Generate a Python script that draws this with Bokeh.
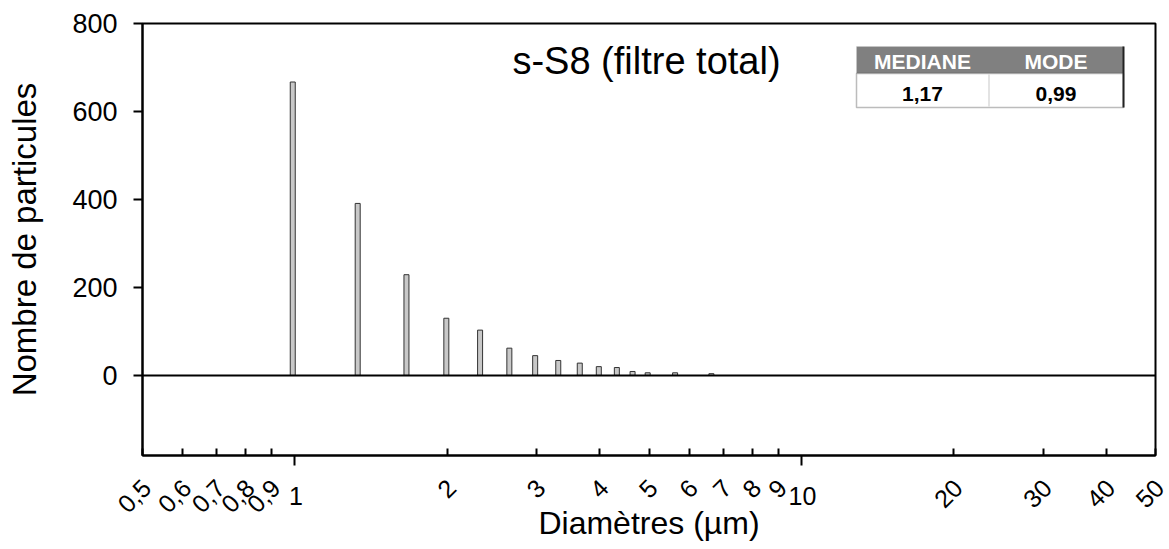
from bokeh.plotting import figure
from bokeh.layouts import column
from bokeh.models import (FixedTicker, Label, Span, BoxAnnotation,
                          CustomJSTickFormatter, ColumnDataSource, Range1d)
from bokeh.core.properties import value
from bokeh.embed import file_html
from bokeh.resources import INLINE

# ---- data ----
diametres = [0.99, 1.33, 1.66, 1.99, 2.32, 2.65, 2.98, 3.31, 3.65, 3.98,
             4.32, 4.64, 4.97, 5.63, 6.64]
particules = [667, 391, 229, 130, 103, 62, 45, 34, 28, 20, 18, 9, 6, 6, 4]

major_ticks = [1, 10]
major_labels = ["1", "10"]
minor_ticks = [0.5, 0.6, 0.7, 0.8, 0.9, 2, 3, 4, 5, 6, 7, 8, 9, 20, 30, 40, 50]
minor_labels = ["0,5", "0,6", "0,7", "0,8", "0,9", "2", "3", "4", "5", "6",
                "7", "8", "9", "20", "30", "40", "50"]
y_ticks = [0, 200, 400, 600, 800]

title_text = "s-S8 (filtre total)"
x_title = "Diamètres (µm)"
y_title = "Nombre de particules"
table_headers = ["MEDIANE", "MODE"]
table_values = ["1,17", "0,99"]

X_MIN, X_MAX = 0.5, 50
Y_MIN, Y_MAX = -182, 800

FONT = "Liberation Sans"

# ---- layout constants ----
W = 1169
LEFT, RIGHT, TOP, BOTTOM = 142, 14, 23, 16
FRAME_W, FRAME_H = W - LEFT - RIGHT, 432
H_MAIN = TOP + FRAME_H + BOTTOM
H_LAB = 549 - H_MAIN

# ---- main chart ----
p = figure(width=W, height=H_MAIN, x_axis_type="log",
           x_range=(X_MIN, X_MAX), y_range=(Y_MIN, Y_MAX),
           output_backend="svg", toolbar_location=None,
           min_border_left=LEFT, min_border_right=RIGHT,
           min_border_top=TOP, min_border_bottom=BOTTOM)
p.frame_align = False
p.title.visible = False
p.grid.visible = False
p.outline_line_color = "black"
p.outline_line_width = 2

src = ColumnDataSource(dict(x=diametres,
                            y=[v / 2 for v in particules],
                            h=particules))
p.rect(x="x", y="y", width=5, height="h", width_units="screen", source=src,
       fill_color="#c8c8c8", line_color="#333333", line_width=1)

p.add_layout(Span(location=0, dimension="width", line_color="black",
                  line_width=2))

xa = p.xaxis[0]
xa.ticker = FixedTicker(ticks=major_ticks, minor_ticks=minor_ticks)
xa.formatter = CustomJSTickFormatter(code="return ''")
xa.major_tick_in = 0
xa.major_tick_out = 10
xa.minor_tick_in = 7
xa.minor_tick_out = 0
xa.major_tick_line_width = 2
xa.minor_tick_line_width = 2
xa.axis_line_width = 2
xa.major_label_standoff = 0
xa.major_label_text_font_size = "1px"

ya = p.yaxis[0]
ya.ticker = FixedTicker(ticks=y_ticks, minor_ticks=[])
ya.major_tick_in = 0
ya.major_tick_out = 9
ya.major_tick_line_width = 2
ya.axis_line_width = 2
ya.major_label_text_font = FONT
ya.major_label_text_font_size = "27px"
ya.major_label_text_color = "black"
ya.major_label_standoff = 16
ya.axis_label = y_title
ya.axis_label_text_font = FONT
ya.axis_label_text_font_size = "33px"
ya.axis_label_text_font_style = "normal"
ya.axis_label_text_color = "black"
ya.axis_label_standoff = 26

# title inside the frame (screen units relative to the frame)
p.add_layout(Label(x=504, y=395, x_units="screen", y_units="screen",
                   text=title_text, text_align="center",
                   text_baseline="middle", text_font=FONT,
                   text_font_size="38px", text_color="black"))

# summary table
tl, tm, tr = 714, 846, 981
tt, tmid, tb = 409, 382, 348


def box(l, r, t, b, **kw):
    return BoxAnnotation(left=l, right=r, top=t, bottom=b,
                         left_units="screen", right_units="screen",
                         top_units="screen", bottom_units="screen",
                         fill_alpha=1, level="overlay", **kw)


p.add_layout(box(tl, tr, tt, tmid, fill_color="#808080",
                 line_color="#d0d0d0", line_width=1))
p.add_layout(box(tl, tr, tmid, tb, fill_color="white",
                 line_color="#222222", line_width=1.5))
p.add_layout(box(tm, tm + 1, tmid - 1, tb + 1, fill_color="#c8c8c8",
                 line_alpha=0))
p.add_layout(box(tr - 1, tr + 1, tt, tb, fill_color="#222222",
                 line_alpha=0))

centers = [(tl + tm) / 2, (tm + tr) / 2]
for cx, h, v in zip(centers, table_headers, table_values):
    p.add_layout(Label(x=cx, y=394, x_units="screen", y_units="screen",
                       text=h, text_align="center", text_baseline="middle",
                       text_font=FONT, text_font_size="21px",
                       text_font_style="bold", text_color="white",
                       level="overlay"))
    p.add_layout(Label(x=cx, y=362, x_units="screen", y_units="screen",
                       text=v, text_align="center", text_baseline="middle",
                       text_font=FONT, text_font_size="21px",
                       text_font_style="bold", text_color="black",
                       level="overlay"))

# ---- tick labels and x title strip (same log scale, full width) ----
decade = FRAME_W / 2.0  # px per decade (0.5 .. 50 spans two decades)
lab_start = X_MIN / 10 ** (LEFT / decade)
lab_end = X_MAX * 10 ** (RIGHT / decade)

q = figure(width=W, height=H_LAB, x_axis_type="log",
           x_range=Range1d(lab_start, lab_end), y_range=Range1d(H_LAB, 0),
           x_axis_location=None, y_axis_location=None,
           output_backend="svg", toolbar_location=None,
           min_border=0, min_border_left=0, min_border_right=0,
           min_border_top=0, min_border_bottom=0)
q.frame_align = False
q.grid.visible = False
q.outline_line_color = None
q.title.visible = False

ROT_Y, UP_Y, TITLE_Y = 12, 24.5, 51

q.text(x=minor_ticks, y=[ROT_Y] * len(minor_ticks), text=minor_labels,
       angle=0.7854, x_offset=4, text_align="right", text_baseline="middle",
       text_font=value(FONT), text_font_size="25px", text_color="black")
q.text(x=major_ticks, y=[UP_Y] * len(major_ticks), text=major_labels,
       x_offset=1, text_align="center", text_baseline="middle",
       text_font=value(FONT), text_font_size="25px", text_color="black")
q.text(x=[(X_MIN * X_MAX) ** 0.5], y=[TITLE_Y], text=[x_title],
       text_align="center", text_baseline="middle",
       text_font=value(FONT), text_font_size="32px", text_color="black")

layout = column(p, q, spacing=0)
open("out.html", "w").write(file_html(layout, INLINE))
